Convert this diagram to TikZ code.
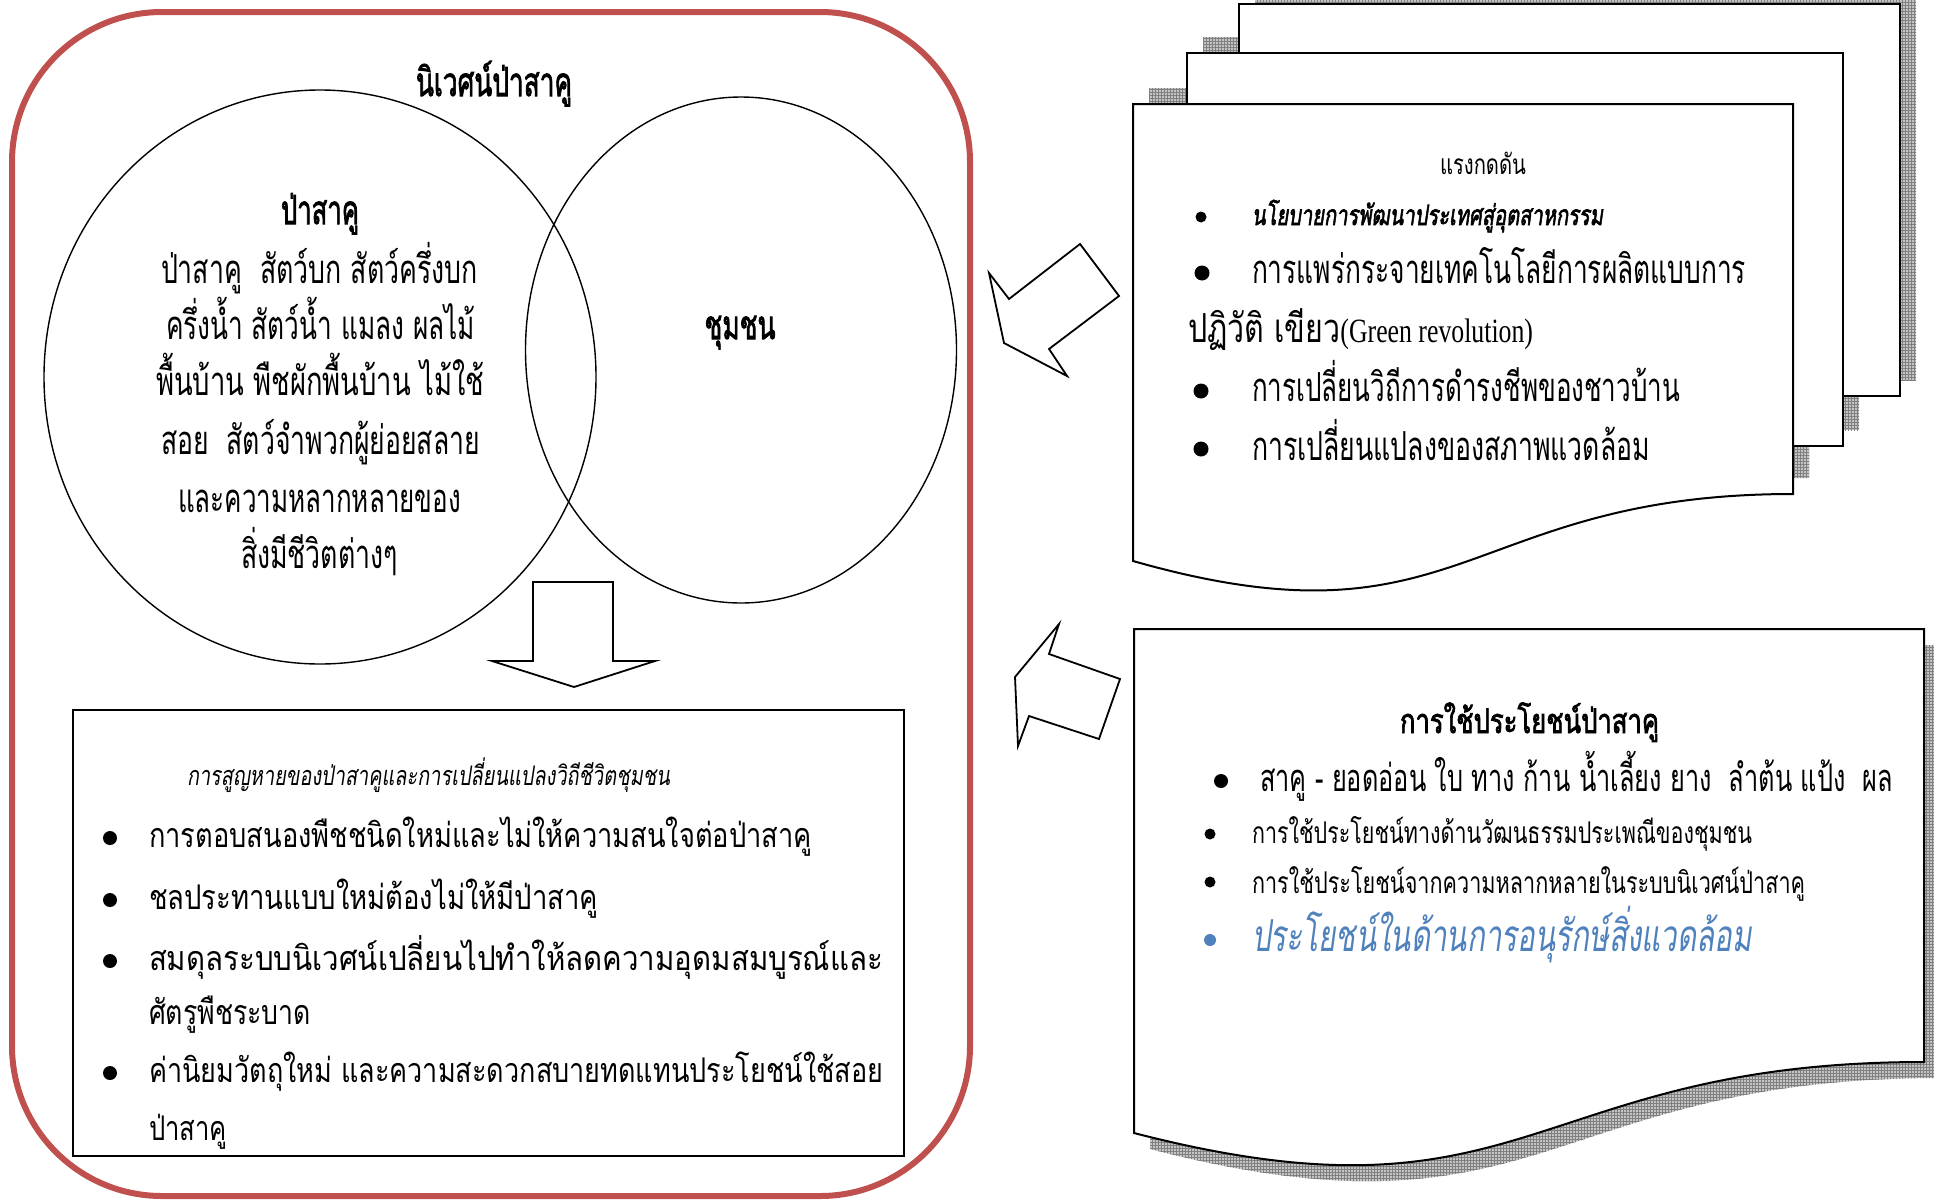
\documentclass[tikz,border=0pt]{standalone}
\usepackage{fontspec}
\usepackage{graphicx}
\usetikzlibrary{patterns,shapes.geometric}
\setmainfont{Loma}[Script=Thai, AutoFakeBold=2.5, AutoFakeSlant=0.2]
\newfontfamily\latinserif{Liberation Serif}
\definecolor{framered}{HTML}{C0504D}
\definecolor{accblue}{HTML}{4F81BD}
\definecolor{shadowgray}{HTML}{C4C4C4}
\newcommand{\fw}[2]{\resizebox{#1pt}{\height}{#2}}
\newcommand{\fsz}[1]{\fontsize{#1}{#1}\selectfont}
\begin{document}
\begin{tikzpicture}[x=1pt,y=-1pt,
  txt/.style={inner sep=0pt, outer sep=0pt, anchor=base west},
  ctxt/.style={inner sep=0pt, outer sep=0pt, anchor=base},
  blt/.style={circle, fill=black, inner sep=0pt, minimum size=#1},
  page/.style={draw=black, line width=2pt, fill=white, line join=miter},
  shade/.style={fill=shadowgray, postaction={pattern=grid, pattern color=gray}},
  blockarrow/.style={draw=black, line width=1.8pt, fill=white, line join=miter}]
\useasboundingbox (0,0) rectangle (1934,1202);

% ---------- left frame ----------
\draw[framered, line width=6pt, rounded corners=150pt] (12,12) rectangle (970,1196);
\node[ctxt] (title) at (494,96) {\fsz{40}\bfseries\fw{156}{นิเวศน์ป่าสาคู}};

\node[ellipse, draw, line width=1.4pt, minimum width=552pt, minimum height=574pt, inner sep=0pt] (forest) at (320,377) {};
\node[ellipse, draw, line width=1.4pt, minimum width=431pt, minimum height=506pt, inner sep=0pt] (community) at (741,350) {};

\node[ctxt] (foresthead) at (320,224) {\fsz{40}\bfseries\fw{78}{ป่าสาคู}};
\node[txt] (f1) at (161,283) {\fsz{40}\fw{317}{ป่าสาคู\ \ สัตว์บก สัตว์ครึ่งบก}};
\node[txt] (f2) at (166,339) {\fsz{40}\fw{309}{ครึ่งน้ำ สัตว์น้ำ แมลง ผลไม้}};
\node[txt] (f3) at (156,395) {\fsz{40}\fw{328}{พื้นบ้าน พืชผักพื้นบ้าน ไม้ใช้}};
\node[txt] (f4) at (161,454) {\fsz{40}\fw{319}{สอย\ \ สัตว์จำพวกผู้ย่อยสลาย}};
\node[txt] (f5) at (178,512) {\fsz{40}\fw{283}{และความหลากหลายของ}};
\node[txt] (f6) at (241,568) {\fsz{40}\fw{157}{สิ่งมีชีวิตต่างๆ}};
\node[ctxt] (commhead) at (740,339) {\fsz{40}\bfseries\fw{71}{ชุมชน}};

% down arrow
\draw[blockarrow] (533,582) -- (613,582) -- (613,661) -- (655,661) -- (574,687) -- (492,661) -- (533,661) -- cycle;

% loss box
\node[draw, line width=1.8pt, minimum width=831pt, minimum height=446pt, inner sep=0pt] (lossbox) at (488.5,933) {};
\node[txt] (losstitle) at (187,785) {\fsz{27}\itshape\fw{483}{การสูญหายของป่าสาคูและการเปลี่ยนแปลงวิถีชีวิตชุมชน}};
\node[blt=14pt] (lb1) at (110,838) {};
\node[blt=14pt] (lb2) at (110,900) {};
\node[blt=14pt] (lb3) at (110,961) {};
\node[blt=14pt] (lb5) at (110,1073) {};
\node[txt] (l1) at (149,847) {\fsz{34}\fw{663}{การตอบสนองพืชชนิดใหม่และไม่ให้ความสนใจต่อป่าสาคู}};
\node[txt] (l2) at (149,909) {\fsz{34}\fw{449}{ชลประทานแบบใหม่ต้องไม่ให้มีป่าสาคู}};
\node[txt] (l3) at (149,970) {\fsz{34}\fw{734}{สมดุลระบบนิเวศน์เปลี่ยนไปทำให้ลดความอุดมสมบูรณ์และ}};
\node[txt] (l4) at (149,1024) {\fsz{34}\fw{162}{ศัตรูพืชระบาด}};
\node[txt] (l5) at (149,1082) {\fsz{34}\fw{734}{ค่านิยมวัตถุใหม่ และความสะดวกสบายทดแทนประโยชน์ใช้สอย}};
\node[txt] (l6) at (149,1140) {\fsz{34}\fw{78}{ป่าสาคู}};

% ---------- top right: pressures (multi-document) ----------
\path[shade] (1255,-12) rectangle (1916,380);
\path[shade] (1203,37) rectangle (1859,430);
\path[shade] (1149,88) -- (1809,88) -- (1809,478) .. controls (1479,478) and (1479,639) .. (1149,545) -- cycle;
\draw[page] (1239,4) rectangle (1900,396);
\draw[page] (1187,53) rectangle (1843,446);
\draw[page] (1133,104) -- (1793,104) -- (1793,494) .. controls (1463,494) and (1463,655) .. (1133,561) -- cycle;

\node[txt] (p0) at (1440,174) {\fsz{28}\fw{86}{แรงกดดัน}};
\node[blt=11pt] (pb1) at (1201,217) {};
\node[blt=15pt] (pb2) at (1202,273) {};
\node[blt=15pt] (pb3) at (1201,391) {};
\node[blt=15pt] (pb4) at (1201,449) {};
\node[txt] (p1) at (1252,225) {\fsz{28}\bfseries\itshape\fw{351}{นโยบายการพัฒนาประเทศสู่อุตสาหกรรม}};
\node[txt] (p2) at (1252,283) {\fsz{40}\fw{494}{การแพร่กระจายเทคโนโลยีการผลิตแบบการ}};
\node[txt] (p2b) at (1188,342) {\fsz{40}\fw{345}{ปฏิวัติ เขียว{\latinserif\fontsize{34}{34}\selectfont(Green revolution)}}};
\node[txt] (p3) at (1252,401) {\fsz{40}\fw{428}{การเปลี่ยนวิถีการดำรงชีพของชาวบ้าน}};
\node[txt] (p4) at (1252,460) {\fsz{40}\fw{398}{การเปลี่ยนแปลงของสภาพแวดล้อม}};

% ---------- bottom right: uses (document) ----------
\path[shade] (1150,645) -- (1940,645) -- (1940,1078) .. controls (1545,1078) and (1545,1251) .. (1150,1149) -- cycle;
\draw[page] (1134,629) -- (1924,629) -- (1924,1062) .. controls (1529,1062) and (1529,1235) .. (1134,1133) -- cycle;

\node[txt] (u0) at (1400,733) {\fsz{34}\bfseries\fw{259}{การใช้ประโยชน์ป่าสาคู}};
\node[blt=14pt] (ub1) at (1221,781) {};
\node[blt=11pt] (ub2) at (1210,834) {};
\node[blt=11pt] (ub3) at (1210,882) {};
\node[blt=12pt, fill=accblue] (ub4) at (1210,940) {};
\node[txt] (u1) at (1260,791) {\fsz{38}\fw{633}{สาคู - ยอดอ่อน ใบ ทาง ก้าน น้ำเลี้ยง ยาง\ \ ลำต้น แป้ง\ \ ผล}};
\node[txt] (u2) at (1252,843) {\fsz{30}\fw{500}{การใช้ประโยชน์ทางด้านวัฒนธรรมประเพณีของชุมชน}};
\node[txt] (u3) at (1252,893) {\fsz{30}\fw{553}{การใช้ประโยชน์จากความหลากหลายในระบบนิเวศน์ป่าสาคู}};
\node[txt, text=accblue] (u4) at (1252,951) {\fsz{44}\itshape\fw{500}{ประโยชน์ในด้านการอนุรักษ์สิ่งแวดล้อม}};

% ---------- block arrows pointing to the frame ----------
\draw[blockarrow] (1080,244) -- (1119,296) -- (1049,349) -- (1067,376) -- (1004,343) -- (989,273) -- (1009,299) -- cycle;
\draw[blockarrow] (1059,624) -- (1049,654) -- (1120,679) -- (1099,739) -- (1029,716) -- (1018,746) -- (1015,677) -- cycle;
\end{tikzpicture}
\end{document}
